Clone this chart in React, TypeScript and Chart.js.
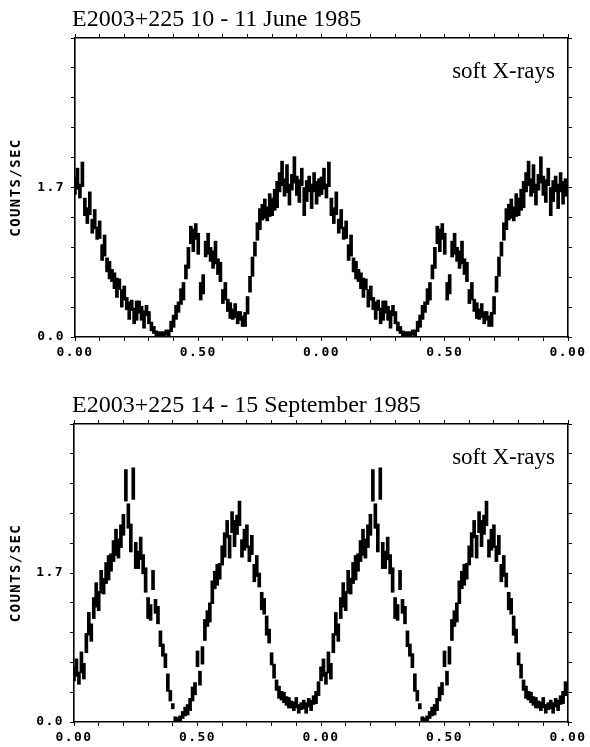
import React, { useEffect, useRef } from "react";
import { Chart, registerables } from "chart.js";

Chart.register(...registerables);

// ---------- data ----------
const BINS_PER_CYCLE = 100; // phase bins of 0.01
const cycles = [0, 1]; // the folded light curve is shown twice
const xTickLabels = ["0.00", "0.50", "0.00", "0.50", "0.00"];
const yTickLabels = ["0.0", "1.7"];
const juneTitle = "E2003+225 10 - 11 June 1985";
const septTitle = "E2003+225 14 - 15 September 1985";
const bandLabel = "soft X-rays";
const yAxisTitle = "COUNTS/SEC";

const juneCounts = [
  1.72, 1.8, 1.66, 1.85, 1.48, 1.38, 1.52, 1.26, 1.34, 1.18,
  1.22, 0.96, 1.04, 0.82, 0.76, 0.7, 0.64, 0.56, 0.6, 0.44,
  0.5, 0.38, 0.3, 0.36, 0.24, 0.3, 0.34, 0.27, 0.2, 0.3,
  0.22, 0.12, 0.08, 0.04, 0.02, 0.03, 0.02, 0.05, 0.03, 0.12,
  0.18, 0.28, 0.34, 0.46, 0.52, 0.74, 0.9, 1.16, 1.1, 1.2,
  1.06, 0.52, 0.6, 1.0, 1.06, 0.94, 0.88, 0.96, 0.8, 0.74,
  0.46, 0.52, 0.36, 0.3, 0.26, 0.3, 0.22, 0.24, 0.18, 0.2,
  0.36, 0.6, 0.8, 1.0, 1.2, 1.34, 1.42, 1.46, 1.4, 1.5,
  1.48, 1.56, 1.62, 1.76, 1.86, 1.7, 1.8, 1.62, 1.76, 1.9,
  1.72, 1.66, 1.82, 1.54, 1.66, 1.74, 1.6, 1.76, 1.64, 1.7,
];
const juneErr = [
  0.1, 0.12, 0.08, 0.14, 0.1, 0.09, 0.13, 0.08, 0.11, 0.07,
  0.1, 0.09, 0.12, 0.08, 0.1, 0.07, 0.09, 0.11, 0.06, 0.1,
  0.08, 0.07, 0.1, 0.06, 0.09, 0.11, 0.07, 0.08, 0.1, 0.06,
  0.07, 0.05, 0.04, 0.03, 0.04, 0.03, 0.04, 0.03, 0.05, 0.06,
  0.07, 0.08, 0.06, 0.09, 0.1, 0.08, 0.12, 0.1, 0.13, 0.09,
  0.12, 0.1, 0.11, 0.09, 0.12, 0.08, 0.1, 0.13, 0.09, 0.11,
  0.08, 0.1, 0.07, 0.09, 0.06, 0.08, 0.07, 0.05, 0.06, 0.08,
  0.1, 0.09, 0.11, 0.08, 0.1, 0.12, 0.09, 0.11, 0.08, 0.13,
  0.1, 0.12, 0.15, 0.11, 0.14, 0.1, 0.16, 0.12, 0.09, 0.15,
  0.11, 0.13, 0.1, 0.16, 0.12, 0.09, 0.14, 0.11, 0.13, 0.1,
];

const septCounts = [
  0.55, 0.62, 0.5, 0.68, 0.58, 0.9, 1.12, 1.02, 1.3, 1.45,
  1.38, 1.6, 1.55, 1.7, 1.76, 1.82, 1.95, 2.05, 1.98, 2.12,
  2.25, 2.7, 2.35, 2.1, 2.72, 1.9, 1.85, 1.98, 1.8, 1.62,
  1.3, 1.25, 1.62, 1.32, 1.22, 0.95, 0.82, 0.7, 0.45, 0.3,
  0.18, 0.03, 0.02, 0.03, 0.08, 0.12, 0.14, 0.2, 0.32, 0.38,
  0.72, 0.5, 0.76, 1.05, 1.18, 1.25, 1.48, 1.62, 1.68, 1.72,
  1.9, 2.02, 2.2, 2.0, 2.28, 2.15, 2.25, 2.38, 1.98, 2.08,
  2.12, 1.92, 2.02, 1.7, 1.78, 1.62, 1.38, 1.32, 1.1, 0.98,
  0.72, 0.58, 0.42, 0.34, 0.3, 0.28, 0.24, 0.22, 0.2, 0.18,
  0.22, 0.15, 0.18, 0.2, 0.16, 0.22, 0.19, 0.25, 0.28, 0.38,
];
const septErr = [
  0.08, 0.1, 0.07, 0.12, 0.09, 0.11, 0.13, 0.1, 0.12, 0.14,
  0.11, 0.13, 0.09, 0.12, 0.14, 0.1, 0.12, 0.15, 0.11, 0.13,
  0.12, 0.18, 0.14, 0.16, 0.18, 0.15, 0.1, 0.13, 0.11, 0.14,
  0.12, 0.09, 0.11, 0.08, 0.1, 0.09, 0.07, 0.08, 0.1, 0.06,
  0.03, 0.03, 0.03, 0.04, 0.04, 0.05, 0.06, 0.07, 0.08, 0.07,
  0.09, 0.08, 0.1, 0.12, 0.09, 0.11, 0.13, 0.1, 0.12, 0.09,
  0.11, 0.14, 0.1, 0.13, 0.12, 0.15, 0.11, 0.14, 0.1, 0.12,
  0.13, 0.09, 0.11, 0.1, 0.12, 0.08, 0.1, 0.09, 0.11, 0.08,
  0.07, 0.08, 0.06, 0.07, 0.05, 0.06, 0.05, 0.06, 0.04, 0.05,
  0.06, 0.05, 0.04, 0.05, 0.06, 0.05, 0.06, 0.05, 0.07, 0.08,
];

// ---------- plugins ----------
const spacingPlugin = {
  id: "letterSpacing",
  beforeDraw(chart: any) {
    (chart.ctx as any).letterSpacing = "1.4px";
  },
  afterDraw(chart: any) {
    (chart.ctx as any).letterSpacing = "0px";
  },
};

const panelTextPlugin = {
  id: "panelText",
  afterDraw(chart: any, _args: any, opts: any) {
    const ctx = chart.ctx;
    const area = chart.chartArea;
    ctx.save();
    (ctx as any).letterSpacing = "0px";
    ctx.fillStyle = "#000";
    ctx.textBaseline = "alphabetic";
    ctx.font = '24px "Liberation Serif", "Times New Roman", serif';
    ctx.textAlign = "left";
    ctx.fillText(opts.title, opts.titleX, opts.titleY);
    ctx.font = '23px "Liberation Serif", "Times New Roman", serif';
    ctx.textAlign = "right";
    ctx.fillText(opts.label, area.right - 13, area.top + 40);
    ctx.restore();
  },
};

// ---------- panel ----------
type PanelProps = {
  top: number;
  height: number;
  areaTop: number;
  areaBottom: number;
  areaLeft: number;
  areaRight: number;
  title: string;
  counts: number[];
  errs: number[];
};

const W = 590;
const monoFont = { family: '"DejaVu Sans Mono", monospace', size: 13, weight: "bold" as const };

function xLabel(v: number): string {
  const k = v * 2;
  if (Math.abs(k - Math.round(k)) < 1e-6) return xTickLabels[Math.round(k)] ?? "";
  return "";
}
function yLabel(v: number): string {
  const k = v / 1.7;
  if (Math.abs(k - Math.round(k)) < 1e-6) return yTickLabels[Math.round(k)] ?? "";
  return "";
}

function Panel(p: PanelProps) {
  const ref = useRef<HTMLCanvasElement>(null);
  useEffect(() => {
    if (!ref.current) return;
    const points: { x: number; y: [number, number] }[] = [];
    cycles.forEach((c) => {
      p.counts.forEach((v, i) => {
        points.push({ x: c + i / BINS_PER_CYCLE, y: [v - p.errs[i], v + p.errs[i]] });
      });
    });
    const gridCommon = {
      drawOnChartArea: false,
      drawTicks: true,
      tickLength: 4,
      color: "#000",
      lineWidth: 1,
      offset: false,
    };
    const borderCommon = { display: true, color: "#000", width: 1.6 };
    const chart = new Chart(ref.current, {
      type: "bar",
      data: {
        datasets: [
          {
            data: points as any,
            backgroundColor: "#000",
            borderWidth: 0,
            barThickness: 3,
            grouped: false,
          } as any,
        ],
      },
      options: {
        animation: false,
        responsive: false,
        events: [],
        layout: { padding: { top: p.areaTop, right: W - p.areaRight, left: 0, bottom: 0 } },
        plugins: {
          legend: { display: false },
          tooltip: { enabled: false },
          title: { display: false },
          panelText: { title: p.title, titleX: 72, titleY: 26, label: bandLabel },
        } as any,
        scales: {
          x: {
            type: "linear",
            axis: "x",
            position: "bottom",
            min: 0,
            max: 2,
            offset: false,
            grid: gridCommon,
            border: borderCommon,
            ticks: {
              stepSize: 0.1,
              autoSkip: false,
              maxRotation: 0,
              minRotation: 0,
              padding: 4,
              color: "#000",
              font: monoFont,
              callback: (v: any) => xLabel(Number(v)),
            },
            afterFit: (s: any) => {
              s.height = p.height - p.areaBottom;
            },
          },
          x2: {
            type: "linear",
            axis: "x",
            position: "top",
            min: 0,
            max: 2,
            offset: false,
            grid: gridCommon,
            border: borderCommon,
            ticks: { stepSize: 0.1, autoSkip: false, display: false },
            afterFit: (s: any) => {
              s.height = 0;
            },
          },
          y: {
            type: "linear",
            axis: "y",
            position: "left",
            min: 0,
            max: 3.4,
            grid: gridCommon,
            border: borderCommon,
            ticks: {
              stepSize: 0.34,
              autoSkip: false,
              padding: 6,
              color: "#000",
              font: monoFont,
              callback: (v: any) => yLabel(Number(v)),
            },
            title: {
              display: true,
              text: yAxisTitle,
              color: "#000",
              font: { family: '"DejaVu Sans Mono", monospace', size: 14, weight: "bold" },
              padding: { top: 8, bottom: 0 },
            },
            afterFit: (s: any) => {
              s.width = p.areaLeft;
            },
          },
          y2: {
            type: "linear",
            axis: "y",
            position: "right",
            min: 0,
            max: 3.4,
            grid: gridCommon,
            border: borderCommon,
            ticks: { stepSize: 0.34, autoSkip: false, display: false },
            afterFit: (s: any) => {
              s.width = 0;
            },
          },
        } as any,
      },
      plugins: [spacingPlugin, panelTextPlugin],
    });
    return () => chart.destroy();
  }, []);
  return (
    <canvas
      ref={ref}
      width={W}
      height={p.height}
      style={{ position: "absolute", left: 0, top: p.top, width: W, height: p.height }}
    />
  );
}

export default function App() {
  return (
    <div
      style={{
        position: "fixed",
        left: 0,
        top: 0,
        width: W,
        height: 747,
        background: "#fff",
        overflow: "hidden",
      }}
    >
      <Panel
        top={0}
        height={372}
        areaTop={38}
        areaBottom={337}
        areaLeft={75}
        areaRight={568}
        title={juneTitle}
        counts={juneCounts}
        errs={juneErr}
      />
      <Panel
        top={386}
        height={361}
        areaTop={38}
        areaBottom={336}
        areaLeft={74}
        areaRight={568}
        title={septTitle}
        counts={septCounts}
        errs={septErr}
      />
    </div>
  );
}
